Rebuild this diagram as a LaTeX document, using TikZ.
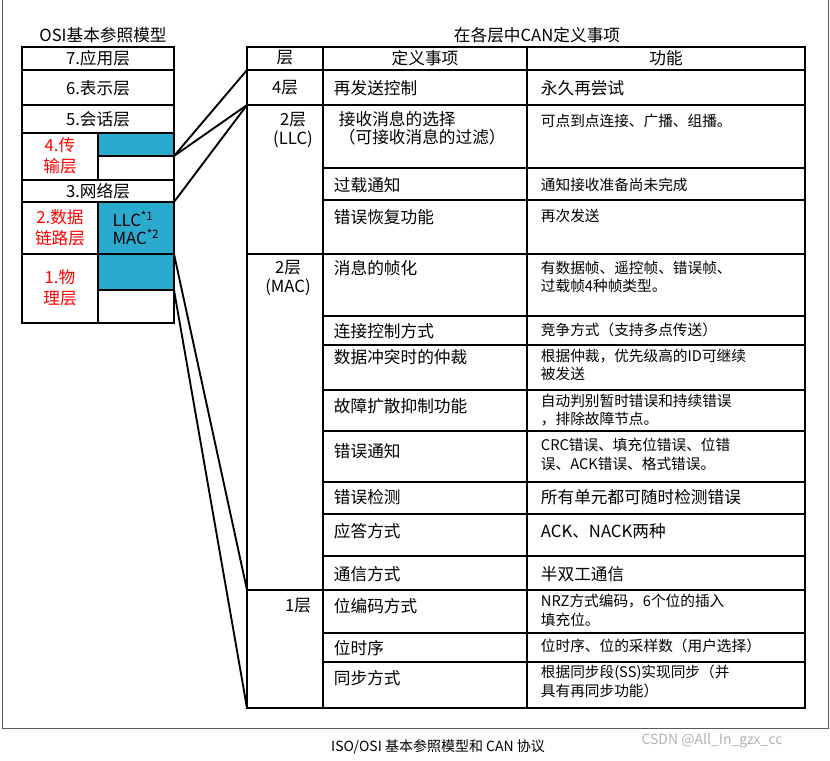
\documentclass[tikz,border=0pt]{standalone}
\usepackage{fontspec}
\setmainfont{Noto Sans CJK SC}
\begin{document}
\begin{tikzpicture}[x=0.75pt,y=-0.75pt,line width=1.4pt,
  t/.style={font=\fontsize{12.5}{14}\selectfont,inner sep=0pt},
  s/.style={font=\fontsize{11}{14}\selectfont,inner sep=0pt,align=left,anchor=north west},
  r/.style={font=\fontsize{12.5}{16}\selectfont,inner sep=0pt,text=red,align=center}]
\useasboundingbox (0,0) rectangle (830,760);
\definecolor{cb}{RGB}{42,170,205}
\tikzset{bl/.style={fill=cb,draw}}
\draw[line width=0.6pt,gray!70!black] (2,0)--(2,728)--(828,728)--(828,0);
% left stack
\node[t] (lt) at (103,35) {OSI基本参照模型};
\draw[bl] (98,133) rectangle (174,156);
\draw[bl] (98,202) rectangle (174,254);
\draw[bl] (98,254) rectangle (174,290);
\draw (22,47) rectangle (174,323);
\foreach \y in {70,105,133,180,202,254} \draw (22,\y)--(174,\y);
\draw (98,133)--(98,180) (98,202)--(98,323);
\node[t] (l7) at (98,58) {7.应用层};
\node[t] (l6) at (98,88) {6.表示层};
\node[t] (l5) at (98,119) {5.会话层};
\node[t] (l3) at (98,191) {3.网络层};
\node[r] (l4) at (60,156) {4.传\\输层};
\node[r] (l2) at (60,228) {2.数据\\链路层};
\node[r] (l1) at (60,288) {1.物\\理层};
\node[t,align=left] (llc) at (136,228) {LLC\textsuperscript{*1}\\MAC\textsuperscript{*2}};
% table
\node[t] (rt) at (537,35) {在各层中CAN定义事项};
\draw (247,47) rectangle (805,708);
\draw (323,47)--(323,708) (527,47)--(527,708);
\foreach \y in {70,105,254,590} \draw (247,\y)--(805,\y);
\foreach \y in {168,200,316,345,390,431,482,514,556,633,662} \draw (323,\y)--(805,\y);
\draw[dashed,dash pattern=on 6pt off 4pt] (247,254)--(323,254);
\node[t] at (285,58) {层};
\node[t] at (425,58) {定义事项};
\node[t] at (666,58) {功能};
\node[t] at (285,88) {4层};
\node[t,align=center] at (293,130) {2层\\(LLC)};
\node[t,align=center] at (288,278) {2层\\(MAC)};
\node[t] at (298,606) {1层};
\foreach \y/\txt in {88/再发送控制,185/过载通知,217/错误恢复功能,268/消息的帧化,331/连接控制方式,357/数据冲突时的仲裁,406/故障扩散抑制功能,451/错误通知,497/错误检测,531/应答方式,574/通信方式,606/位编码方式,648/位时序,678/同步方式}
  \node[t,anchor=west] at (333,\y) {\txt};
\node[t,align=left,anchor=north west] at (338,110) {接收消息的选择\\（可接收消息的过滤）};
\node[t,anchor=west] at (540,88) {永久再尝试};
\node[s] at (540,113) {可点到点连接、广播、组播。};
\node[s] at (540,177) {通知接收准备尚未完成};
\node[s] at (540,208) {再次发送};
\node[s] at (540,260) {有数据帧、遥控帧、错误帧、\\过载帧4种帧类型。};
\node[s] at (540,322) {竞争方式（支持多点传送）};
\node[s] at (540,348) {根据仲裁，优先级高的ID可继续\\被发送};
\node[s] at (540,393) {自动判别暂时错误和持续错误\\，排除故障节点。};
\node[s] at (540,437) {CRC错误、填充位错误、位错\\误、ACK错误、格式错误。};
\node[t,anchor=west] at (540,497) {所有单元都可随时检测错误};
\node[t,anchor=west] at (540,531) {ACK、NACK两种};
\node[t,anchor=west] at (540,574) {半双工通信};
\node[s] at (540,593) {NRZ方式编码，6个位的插入\\填充位。};
\node[s] at (540,638) {位时序、位的采样数（用户选择）};
\node[s] at (540,664) {根据同步段(SS)实现同步（并\\具有再同步功能）};
% connectors
\coordinate (a) at (174,156); \coordinate (b) at (174,202);
\coordinate (c) at (174,254); \coordinate (d) at (174,290);
\coordinate (t1) at (247,70); \coordinate (t2) at (247,105);
\coordinate (t3) at (247,590); \coordinate (t4) at (247,708);
\draw (a)--(t1) (a)--(t2) (b)--(t2) (c)--(t3) (d)--(t4);
\node[font=\fontsize{10.5}{12}\selectfont] (cap) at (438,747) {ISO/OSI 基本参照模型和 CAN 协议};
\node[font=\fontsize{10.5}{12}\selectfont,text=gray!60] (wm) at (712,741) {CSDN @All\_In\_gzx\_cc};
\end{tikzpicture}
\end{document}
